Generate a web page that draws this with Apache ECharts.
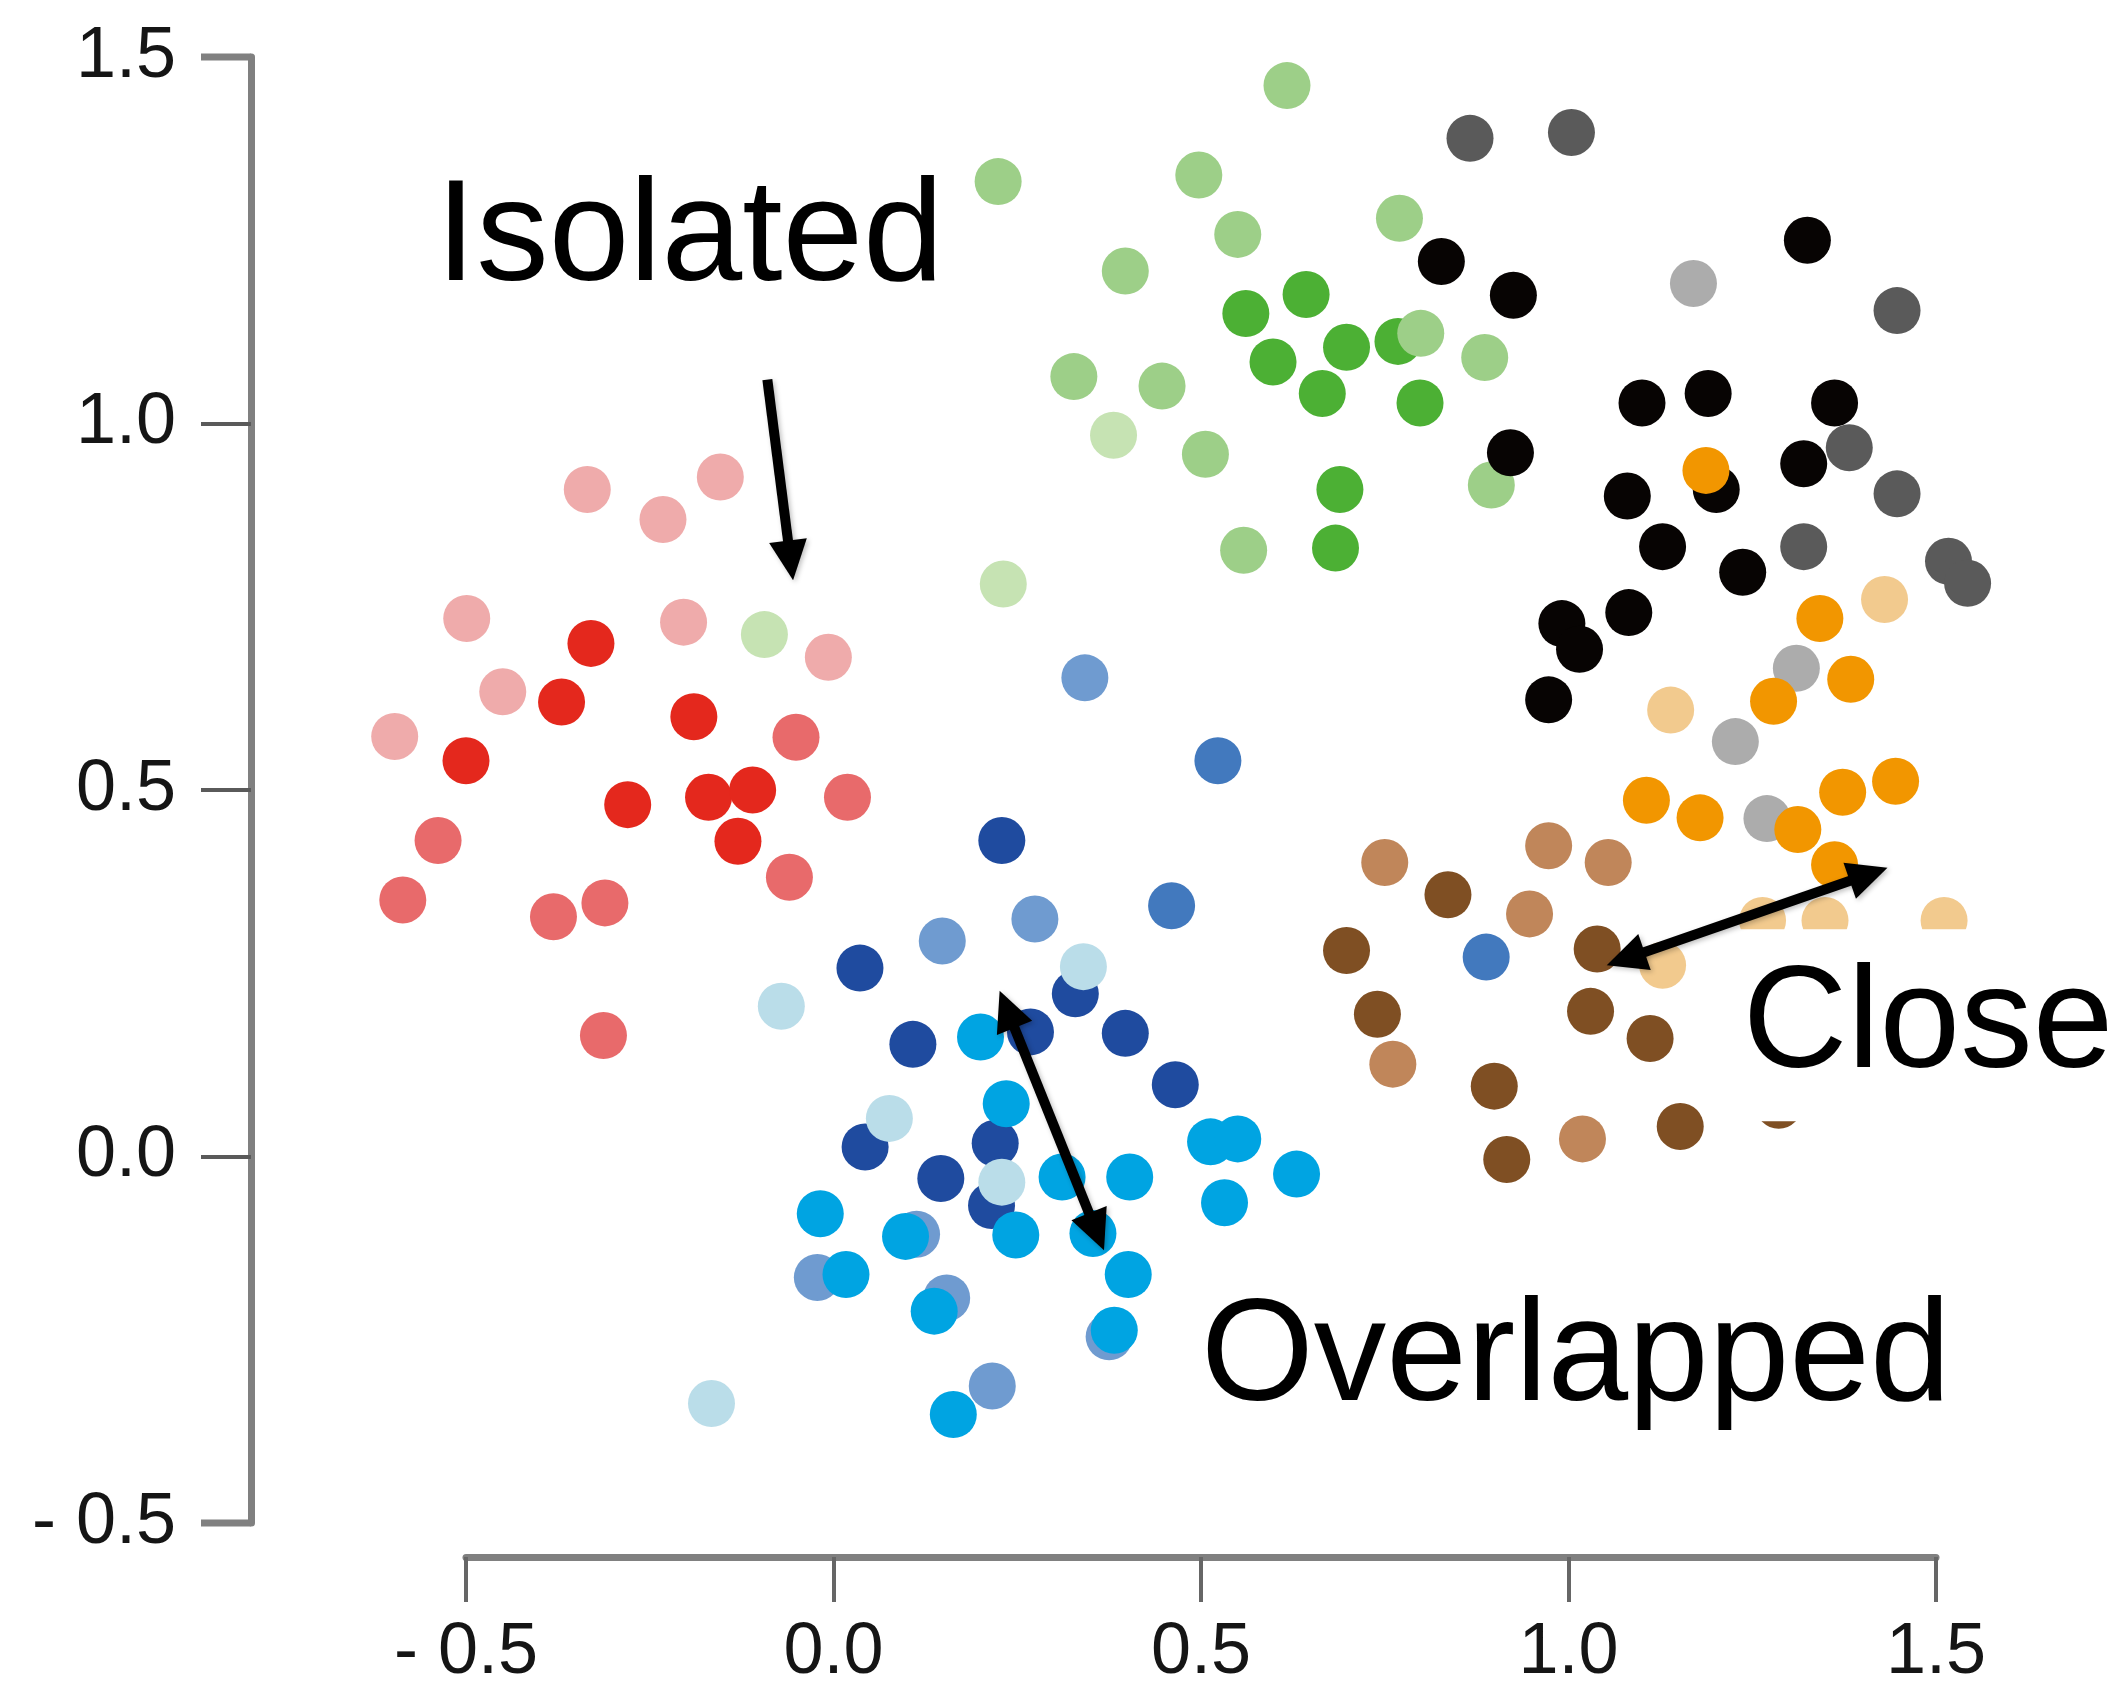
<!DOCTYPE html>
<html><head><meta charset="utf-8">
<script src="https://cdn.jsdelivr.net/npm/echarts@6/dist/echarts.min.js"></script>
<style>html,body{margin:0;padding:0;background:#fff}#c{width:2126px;height:1696px}</style>
</head><body><div id="c"></div>
<script>
// ---- axis ticks ----
const xTickValues = [-0.5, 0.0, 0.5, 1.0, 1.5];
const xTickLabels = ['- 0.5', '0.0', '0.5', '1.0', '1.5'];
const yTickValues = [-0.5, 0.0, 0.5, 1.0, 1.5];
const yTickLabels = ['- 0.5', '0.0', '0.5', '1.0', '1.5'];

// ---- point groups [x, y] ----
const redDark = [[-0.33,0.70],[-0.37,0.62],[-0.19,0.60],[-0.50,0.54],[-0.28,0.48],[-0.17,0.49],[-0.11,0.50],[-0.13,0.43]];
const redMid = [[-0.051,0.572],[0.019,0.490],[-0.060,0.381],[-0.538,0.431],[-0.586,0.350],[-0.381,0.327],[-0.311,0.346],[-0.313,0.165]];
const redLight = [[-0.335,0.910],[-0.154,0.927],[-0.232,0.869],[-0.499,0.734],[-0.204,0.729],[-0.450,0.634],[-0.597,0.573],[-0.007,0.681]];
const greenDark = [[0.561,1.150],[0.643,1.176],[0.598,1.084],[0.698,1.104],[0.768,1.112],[0.665,1.041],[0.798,1.028],[0.689,0.910],[0.683,0.830]];
const greenLight = [[0.224,1.330],[0.617,1.461],[0.497,1.339],[0.550,1.258],[0.770,1.280],[0.397,1.208],[0.799,1.123],[0.327,1.064],[0.447,1.051],[0.506,0.958],[0.886,1.090],[0.895,0.916],[0.558,0.827]];
const greenPale = [[0.381,0.984],[0.231,0.781],[-0.094,0.712]];
const navy = [[0.229,0.431],[0.036,0.257],[0.108,0.153],[0.329,0.222],[0.268,0.170],[0.397,0.168],[0.465,0.098],[0.043,0.013],[0.146,-0.030],[0.220,0.018],[0.215,-0.067]];
const blueMid = [[0.523,0.540],[0.460,0.342],[0.888,0.272]];
const blueSoft = [[0.342,0.653],[0.148,0.294],[0.274,0.324],[-0.022,-0.165],[0.113,-0.106],[0.154,-0.193],[0.375,-0.246],[0.216,-0.313]];
const cyan = [[0.200,0.163],[0.235,0.072],[-0.018,-0.078],[0.017,-0.161],[0.098,-0.109],[0.137,-0.211],[0.248,-0.107],[0.311,-0.028],[0.353,-0.105],[0.403,-0.028],[0.401,-0.161],[0.382,-0.237],[0.163,-0.352],[0.513,0.020],[0.550,0.024],[0.532,-0.063],[0.630,-0.024]];
const bluePale = [[-0.071,0.205],[0.076,0.052],[-0.166,-0.337],[0.340,0.259],[0.229,-0.035]];
const black = [[0.827,1.221],[0.925,1.175],[1.325,1.250],[1.100,1.028],[1.190,1.041],[1.362,1.028],[0.921,0.960],[1.080,0.901],[1.201,0.910],[1.320,0.945],[1.128,0.832],[1.237,0.797],[0.991,0.727],[1.015,0.692],[1.082,0.742],[0.973,0.623]];
const grayDark = [[0.866,1.389],[1.004,1.397],[1.447,1.154],[1.382,0.967],[1.447,0.904],[1.320,0.832],[1.517,0.812],[1.543,0.782]];
const grayLight = [[1.170,1.191],[1.310,0.666],[1.227,0.566],[1.270,0.461]];
const orange = [[1.187,0.936],[1.342,0.734],[1.384,0.651],[1.279,0.621],[1.106,0.486],[1.179,0.462],[1.312,0.446],[1.373,0.497],[1.445,0.512],[1.362,0.398]];
const orangeLight = [[1.430,0.760],[1.139,0.609],[1.128,0.261],[1.264,0.322],[1.349,0.322],[1.511,0.322]];
const brownDark = [[0.698,0.281],[0.836,0.357],[1.039,0.283],[0.740,0.194],[1.030,0.198],[1.111,0.161],[0.899,0.096],[0.916,-0.004],[1.152,0.041],[1.286,0.070]];
const brownMid = [[0.750,0.401],[0.973,0.424],[1.054,0.401],[0.947,0.331],[0.761,0.126],[1.019,0.024]];

const groups = [
  ['redDark', redDark, '#e4281d'], ['redMid', redMid, '#e86a6b'], ['redLight', redLight, '#efabab'],
  ['greenDark', greenDark, '#4cb034'], ['greenLight', greenLight, '#9dcf88'], ['greenPale', greenPale, '#c6e3b3'],
  ['navy', navy, '#1f4b9f'], ['blueMid', blueMid, '#4279be'], ['blueSoft', blueSoft, '#6f9bd0'],
  ['cyan', cyan, '#00a4e2'], ['bluePale', bluePale, '#badde9'],
  ['black', black, '#070403'], ['grayDark', grayDark, '#5a5a5a'], ['grayLight', grayLight, '#acacac'],
  ['orange', orange, '#f29600'], ['orangeLight', orangeLight, '#f2ca8e'],
  ['brownDark', brownDark, '#7f4f23'], ['brownMid', brownMid, '#c0865a']
];

// ---- annotations (data coordinates) ----
const labelTexts = ['Isolated', 'Close', 'Overlapped'];
const labelAnchors = [[-0.541, 1.182], [1.237, 0.108], [0.5, -0.346]];
const arrowSingle = [[-0.090, 1.060], [-0.055, 0.786]];
const arrowOverlap = [[0.226, 0.226], [0.368, -0.128]];
const arrowClose = [[1.052, 0.261], [1.434, 0.394]];
const coverBox = [[1.218, 0.310], [1.218, 0.048]];

const FONT = '"Liberation Sans", Arial, sans-serif';
const chart = echarts.init(document.getElementById('c'), null, {renderer: 'canvas'});

function fmt(labels, values) {
  return function (v) {
    for (let i = 0; i < values.length; i++) if (Math.abs(values[i] - v) < 1e-9) return labels[i];
    return '';
  };
}

chart.setOption({
  animation: false,
  backgroundColor: '#ffffff',
  grid: {left: 466, right: 190, top: 57, bottom: 173, containLabel: false},
  xAxis: {
    type: 'value', min: -0.5, max: 1.5, interval: 0.5, offset: 34,
    splitLine: {show: false},
    axisLine: {show: true, onZero: false, lineStyle: {color: '#808080', width: 7}},
    axisTick: {show: true, length: 45, lineStyle: {color: '#666666', width: 4}},
    axisLabel: {margin: 60, fontSize: 72, fontFamily: FONT, color: '#151515', formatter: fmt(xTickLabels, xTickValues)}
  },
  yAxis: {
    type: 'value', min: -0.5, max: 1.5, interval: 0.5, offset: 215,
    splitLine: {show: false},
    axisLine: {show: true, onZero: false, lineStyle: {color: '#808080', width: 7}},
    axisTick: {show: true, length: 50, lineStyle: {color: '#5a5a5a', width: 4}},
    axisLabel: {margin: 75, fontSize: 72, fontFamily: FONT, color: '#151515', formatter: fmt(yTickLabels, yTickValues)}
  },
  series: groups.map(g => ({
    name: g[0], type: 'scatter', data: g[1], symbol: 'circle', symbolSize: 47,
    clip: false, itemStyle: {color: g[2], opacity: 1}, emphasis: {disabled: true}
  }))
});

function px(p) { return chart.convertToPixel({gridIndex: 0}, p); }
function headPts(tip, dir, L, W) {
  const bx = tip[0] - dir[0] * L, by = tip[1] - dir[1] * L;
  const nx = -dir[1], ny = dir[0];
  return [tip, [bx + nx * W / 2, by + ny * W / 2], [bx - nx * W / 2, by - ny * W / 2]];
}
function arrow(a, b, both) {
  const A = px(a), B = px(b);
  const dx = B[0] - A[0], dy = B[1] - A[1], len = Math.hypot(dx, dy);
  const d = [dx / len, dy / len];
  const L = 40, W = 38;
  const els = [];
  const s = both ? [A[0] + d[0] * L * 0.8, A[1] + d[1] * L * 0.8] : A;
  const e = [B[0] - d[0] * L * 0.8, B[1] - d[1] * L * 0.8];
  const sh = {shadowBlur: 5, shadowColor: 'rgba(0,0,0,0.25)', shadowOffsetX: 2, shadowOffsetY: 2};
  els.push({type: 'line', z: 110, shape: {x1: s[0], y1: s[1], x2: e[0], y2: e[1]}, style: Object.assign({stroke: '#000', lineWidth: 10}, sh)});
  els.push({type: 'polygon', z: 111, shape: {points: headPts(B, d, L, W)}, style: Object.assign({fill: '#000'}, sh)});
  if (both) els.push({type: 'polygon', z: 111, shape: {points: headPts(A, [-d[0], -d[1]], L, W)}, style: Object.assign({fill: '#000'}, sh)});
  return els;
}

const g = [];
// white cover box behind "Close"
const c0 = px(coverBox[0]), c1 = px(coverBox[1]);
g.push({type: 'rect', z: 100, shape: {x: c0[0], y: c0[1], width: 2126 - c0[0], height: c1[1] - c0[1]}, style: {fill: '#ffffff'}});
// end ticks (thicker)
const yAxisX = 466 - 215;
[-0.5, 1.5].forEach(v => {
  const py = px([0, v])[1];
  g.push({type: 'line', z: 105, shape: {x1: yAxisX - 50, y1: py, x2: yAxisX, y2: py}, style: {stroke: '#808080', lineWidth: 7}});
});
g.push.apply(g, arrow(arrowSingle[0], arrowSingle[1], false));
g.push.apply(g, arrow(arrowOverlap[0], arrowOverlap[1], true));
g.push.apply(g, arrow(arrowClose[0], arrowClose[1], true));
labelTexts.forEach((t, i) => {
  const p = px(labelAnchors[i]);
  g.push({type: 'text', z: 120, style: {text: t, x: p[0], y: p[1] - 50, font: '145px ' + FONT, fill: '#000', align: 'left', verticalAlign: 'middle'}});
});
chart.setOption({graphic: g});
</script>
</body></html>
